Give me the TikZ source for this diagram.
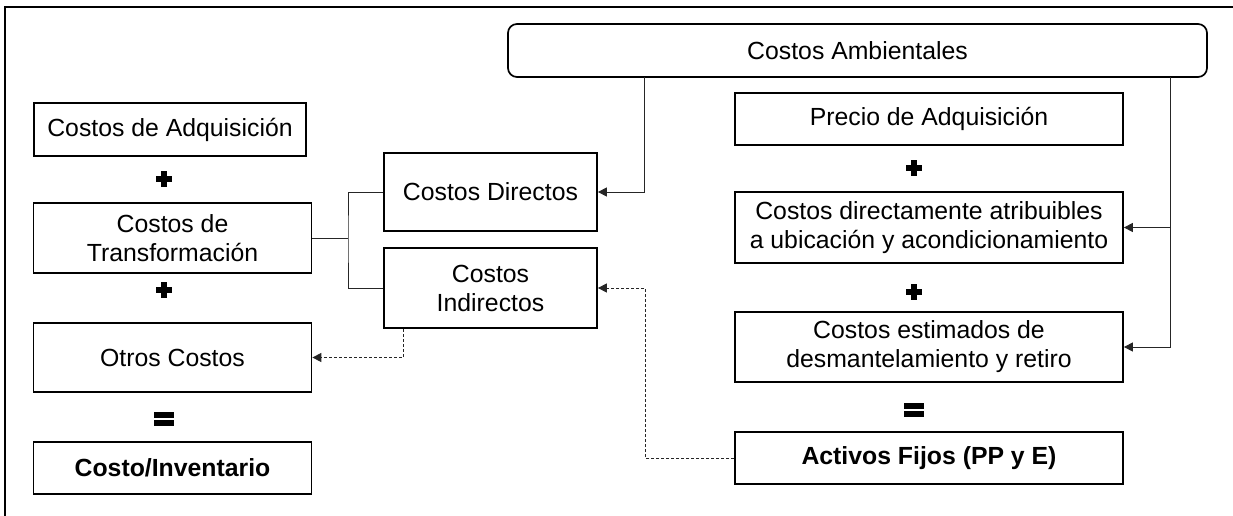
\documentclass[tikz,border=0pt]{standalone}
\usepackage{fontspec}
\setmainfont{Liberation Sans}
\usetikzlibrary{arrows.meta}
\tikzset{
  box/.style={draw=black, line width=1.7pt, align=center, inner sep=0pt,
    font=\fontsize{24.8}{29}\selectfont, text=black},
  bbox/.style={box, font=\fontsize{24.8}{29}\selectfont\bfseries},
  conn/.style={draw=black!85, line width=0.9pt},
  arr/.style={conn, -{Triangle[length=9pt,width=9pt]}},
  darr/.style={arr, dash pattern=on 3pt off 2pt},
}
\newcommand{\plussign}[2]{%
  \fill[black] (#1-8,#2-3) rectangle (#1+8,#2+3);
  \fill[black] (#1-3,#2-8) rectangle (#1+3,#2+8);}
\newcommand{\eqsign}[2]{%
  \fill[black] (#1-10,#2-7) rectangle (#1+10,#2-0.8);
  \fill[black] (#1-10,#2+0.8) rectangle (#1+10,#2+7);}
\begin{document}
\begin{tikzpicture}[x=1pt,y=-1pt]
\useasboundingbox (0,0) rectangle (1233,516);
% frame
\draw[line width=2pt] (1233,7) -- (5,7) -- (5,516);

% left column
\node[box, minimum width=272pt, minimum height=53pt] (adq) at (170,129.5) {Costos de Adquisición};
\node[box, minimum width=278pt, minimum height=70pt] (trans) at (172.5,238) {Costos de\\Transformación};
\node[box, minimum width=278pt, minimum height=69pt] (otros) at (172.5,357.5) {Otros Costos};
\node[bbox, minimum width=278pt, minimum height=52pt] (inv) at (172.5,468) {Costo/Inventario};
\plussign{164}{179}
\plussign{164}{290}
\eqsign{164}{419}

% middle column
\node[box, minimum width=213pt, minimum height=78pt] (dir) at (490.5,192) {Costos Directos};
\node[box, minimum width=213pt, minimum height=80pt] (ind) at (490.5,288) {Costos\\Indirectos};

% top
\node[box, rounded corners=9pt, minimum width=699pt, minimum height=53pt] (amb) at (857.5,50.5) {Costos Ambientales};

% right column
\node[box, minimum width=388pt, minimum height=52pt] (pre) at (929,119) {Precio de Adquisición};
\node[box, minimum width=388pt, minimum height=71pt] (atr) at (929,227.5) {Costos directamente atribuibles\\a ubicación y acondicionamiento};
\node[box, minimum width=388pt, minimum height=70pt] (est) at (929,347) {Costos estimados de\\desmantelamiento y retiro};
\node[bbox, minimum width=388pt, minimum height=52pt] (act) at (929,458) {Activos Fijos (PP y E)};
\plussign{914}{168}
\plussign{914}{292}
\eqsign{914}{410}

% coordinates
\coordinate (bx) at (348,238);
\coordinate (ambL) at (644,77);
\coordinate (ambR) at (1170,77);
\coordinate (dL) at (645,458);
\coordinate (dI) at (403,357);

% bracket
\draw[conn] (trans.east) -- (bx);
\draw[conn] (dir.west) -| (bx) |- (ind.west);
% solid arrows
\draw[arr] (ambL) |- (dir.east);
\draw[arr] (ambR) |- (est.east);
\draw[arr] (ambR |- atr.east) -- (atr.east);
% dashed arrows
\draw[darr] (act.west) -| (dL |- ind.east) -- (ind.east);
\draw[darr] (ind.south -| dI) |- (otros.east);
\end{tikzpicture}
\end{document}
